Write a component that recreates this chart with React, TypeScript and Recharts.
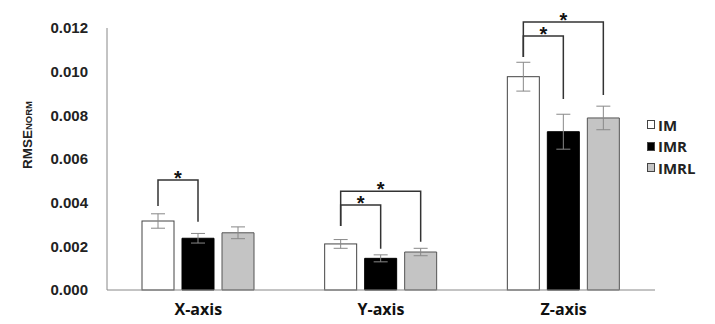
import { Bar, BarChart, ErrorBar, XAxis, YAxis } from "recharts";

if (typeof document !== "undefined") document.body.style.margin = "0";

const categories = ["X-axis", "Y-axis", "Z-axis"];
const imValues = [0.00316, 0.00211, 0.00977];
const imrValues = [0.00237, 0.00145, 0.00725];
const imrlValues = [0.00262, 0.00174, 0.00788];
const imErr = [0.00033, 0.0002, 0.00066];
const imrErr = [0.00022, 0.00016, 0.0008];
const imrlErr = [0.00027, 0.00017, 0.00054];
const yTicks = [0, 0.002, 0.004, 0.006, 0.008, 0.01, 0.012];
const seriesNames = ["IM", "IMR", "IMRL"];
const seriesFills = ["#fff", "#000", "#c4c4c4"];

// significance brackets: from the IM bar to bar index `to`, in data units
const brackets = [
  { cat: "X-axis", to: 1, level: 0.00504, fromEnd: 0.00385, toEnd: 0.00313 },
  { cat: "Y-axis", to: 1, level: 0.00389, fromEnd: 0.00293, toEnd: 0.00189 },
  { cat: "Y-axis", to: 2, level: 0.00452, fromEnd: 0.00293, toEnd: 0.00221 },
  { cat: "Z-axis", to: 1, level: 0.01163, fromEnd: 0.01067, toEnd: 0.00875 },
  { cat: "Z-axis", to: 2, level: 0.01227, fromEnd: 0.01067, toEnd: 0.00893 },
];

const data = categories.map((cat, i) => ({
  cat,
  IM: imValues[i],
  IMR: imrValues[i],
  IMRL: imrlValues[i],
  imErr: imErr[i],
  imrErr: imrErr[i],
  imrlErr: imrlErr[i],
}));

const BAR_SIZE = 32;
const BAR_GAP = 8;
const FONT = "'Open Sans', 'Liberation Sans', sans-serif";

function ImShape(props: any) {
  const { x, y, width, height, payload } = props;
  const base = y + height;
  const k = height / payload.IM;
  const toPx = (v: number) => base - v * k;
  const cx = (i: number) => x + width / 2 + i * (width + BAR_GAP);
  const mine = brackets.filter((b) => b.cat === payload.cat);
  return (
    <g>
      <rect x={x} y={y} width={width} height={height} fill="#fff" stroke="#444" strokeWidth={1} />
      {mine.map((b, j) => {
        const ly = toPx(b.level);
        const x1 = cx(0);
        const x2 = cx(b.to);
        return (
          <g key={j}>
            <path
              d={`M${x1},${toPx(b.fromEnd)}V${ly}H${x2}V${toPx(b.toEnd)}`}
              fill="none"
              stroke="#333"
              strokeWidth={1.5}
            />
            <text
              x={(x1 + x2) / 2}
              y={ly + 5}
              textAnchor="middle"
              fontSize={20}
              fontWeight={700}
              fontFamily="'Liberation Sans', sans-serif"
              fill="#111"
            >
              *
            </text>
          </g>
        );
      })}
    </g>
  );
}

function YLabel() {
  return (
    <text
      x={32}
      y={135}
      transform="rotate(-90, 32, 135)"
      textAnchor="middle"
      fontFamily="'Liberation Sans', sans-serif"
      fontWeight={700}
      fill="#222"
    >
      <tspan fontSize={13.5}>RMSE</tspan>
      <tspan fontSize={9.5}>NORM</tspan>
    </text>
  );
}

function ChartLegend() {
  return (
    <div
      style={{
        position: "absolute",
        left: 647,
        top: 114,
        fontFamily: FONT,
        fontWeight: 700,
        fontSize: 15,
        color: "#222",
        whiteSpace: "nowrap",
      }}
    >
      {seriesNames.map((name, i) => (
        <div key={name} style={{ display: "flex", alignItems: "center", height: 21.5 }}>
          <span
            style={{
              display: "inline-block",
              width: 6,
              height: 7,
              background: seriesFills[i],
              border: "1px solid #444",
              marginRight: 3,
            }}
          />
          <span>{name}</span>
        </div>
      ))}
    </div>
  );
}

export default function App() {
  return (
    <div style={{ width: 715, height: 324, background: "#fff", position: "relative" }}>
      <BarChart
        width={715}
        height={324}
        data={data}
        margin={{ top: 28, right: 60, bottom: 4, left: 0 }}
        barSize={BAR_SIZE}
        barGap={BAR_GAP}
      >
        <XAxis
          dataKey="cat"
          height={30}
          stroke="#888"
          tickLine={false}
          tickSize={0}
          tickMargin={14}
          tick={{ fontSize: 16, fontWeight: 700, fontFamily: FONT, fill: "#111" }}
        />
        <YAxis
          width={107}
          domain={[0, 0.012]}
          ticks={yTicks}
          interval={0}
          stroke="#888"
          tickLine={false}
          tickSize={0}
          tickMargin={19}
          tickFormatter={(v: number) => v.toFixed(3)}
          tick={{ fontSize: 15, fontWeight: 700, fontFamily: "'Liberation Sans', sans-serif", fill: "#222" }}
          label={<YLabel />}
        />
        <Bar dataKey="IM" name={seriesNames[0]} fill={seriesFills[0]} stroke="#444" shape={ImShape} isAnimationActive={false}>
          <ErrorBar dataKey="imErr" width={7} stroke="#888" strokeWidth={1} direction="y" />
        </Bar>
        <Bar dataKey="IMR" name={seriesNames[1]} fill={seriesFills[1]} stroke="#000" isAnimationActive={false}>
          <ErrorBar dataKey="imrErr" width={7} stroke="#888" strokeWidth={1} direction="y" />
        </Bar>
        <Bar dataKey="IMRL" name={seriesNames[2]} fill={seriesFills[2]} stroke="#555" isAnimationActive={false}>
          <ErrorBar dataKey="imrlErr" width={7} stroke="#888" strokeWidth={1} direction="y" />
        </Bar>
      </BarChart>
      <ChartLegend />
    </div>
  );
}
